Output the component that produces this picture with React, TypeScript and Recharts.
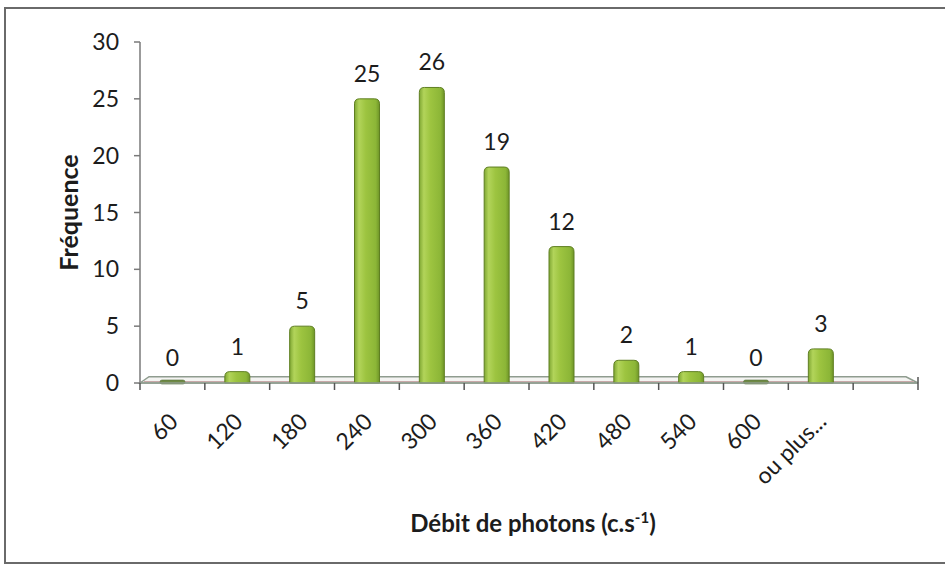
import React from 'react';
import { BarChart, Bar, XAxis, YAxis, LabelList, ReferenceArea } from 'recharts';

const categories = ['60', '120', '180', '240', '300', '360', '420', '480', '540', '600', 'ou plus...', ''];
const frequencies: (number | null)[] = [0, 1, 5, 25, 26, 19, 12, 2, 1, 0, 3, null];
const yTicks = [0, 5, 10, 15, 20, 25, 30];

const data = categories.map((c, i) => ({ cat: c, freq: frequencies[i] }));

const FONT = 'Lato, "Open Sans", sans-serif';
const AXIS_GRAY = '#7a7a7a';
const TEXT = '#1c1c1c';

const CylBar = (props: any) => {
  const { x, y, width, height, index } = props;
  if (x == null || y == null) return null;
  const id = `cyl-${index}`;
  if (!height || height < 2) {
    return (
      <rect x={x} y={y - 3} width={width} height={4} rx={2} fill="#6f8a45" stroke="#55703a" strokeWidth={0.6} />
    );
  }
  const r = Math.min(5, height / 2);
  const d = `M${x},${y + height} L${x},${y + r} Q${x},${y} ${x + r},${y} L${x + width - r},${y} Q${x + width},${y} ${x + width},${y + r} L${x + width},${y + height} Z`;
  return (
    <g>
      <defs>
        <linearGradient id={id} x1="0" y1="0" x2="1" y2="0">
          <stop offset="0%" stopColor="#7fa733" />
          <stop offset="18%" stopColor="#b2d45a" />
          <stop offset="45%" stopColor="#9dc440" />
          <stop offset="85%" stopColor="#8cb637" />
          <stop offset="100%" stopColor="#6f9528" />
        </linearGradient>
      </defs>
      <path d={d} fill={`url(#${id})`} stroke="#5f7f22" strokeWidth={1} />
    </g>
  );
};

const Floor = (props: any) => {
  const { x, y, width, height } = props;
  if (x == null) return null;
  const pts = `${x},${y + height} ${x + 9},${y} ${x + width - 12},${y} ${x + width},${y + height}`;
  return (
    <g>
      <polygon points={pts} fill="#f4f4f2" stroke="#8f9c8f" strokeWidth={1.5} />
      <line x1={x + 4} y1={y + height - 1.5} x2={x + width - 4} y2={y + height - 1.5} stroke="#c9a9a9" strokeWidth={1} />
    </g>
  );
};

const XTick = (props: any) => {
  const { x, y, payload, index } = props;
  const off = payload && payload.offset ? payload.offset : 32;
  const isLast = index === categories.length - 1;
  const ax = x + 7;
  const ay = y + 40;
  return (
    <g>
      <line x1={x - off} y1={y} x2={x - off} y2={y + 7} stroke="#555" strokeWidth={1.5} />
      {isLast && <line x1={x + off} y1={y - 6} x2={x + off} y2={y + 7} stroke="#555" strokeWidth={1.5} />}
      {payload.value !== '' && (
        <text
          x={ax}
          y={ay}
          textAnchor="end"
          transform={`rotate(-45, ${ax}, ${ay})`}
          fontFamily={FONT}
          fontSize={23}
          fill={TEXT}
        >
          {payload.value}
        </text>
      )}
    </g>
  );
};

const YLabel = (props: any) => {
  const vb = props.viewBox || {};
  const cx = 68;
  const cy = vb.y + vb.height / 2;
  return (
    <text x={cx} y={cy} transform={`rotate(-90, ${cx}, ${cy})`} textAnchor="middle" dominantBaseline="central"
      fontFamily={FONT} fontSize={25} fontWeight={700} fill={TEXT}>
      Fréquence
    </text>
  );
};

const XLabel = (props: any) => {
  const vb = props.viewBox || {};
  const cx = vb.x + vb.width / 2 + 4;
  const cy = 532;
  return (
    <text x={cx} y={cy} textAnchor="middle" fontFamily={FONT} fontSize={24} fontWeight={700} fill={TEXT}>
      Débit de photons (c.s<tspan dy={-9} fontSize={15}>-1</tspan><tspan dy={9}>)</tspan>
    </text>
  );
};

const ValueLabel = (props: any) => {
  const { x, y, width, value } = props;
  if (value == null) return null;
  return (
    <text x={x + width / 2} y={y - 17} textAnchor="middle" fontFamily={FONT} fontSize={23} fill={TEXT}>
      {value}
    </text>
  );
};

export default function App() {
  return (
    <div style={{ position: 'absolute', left: 0, top: 0, width: 945, height: 566, background: '#fff', overflow: 'hidden' }}>
      <div
        style={{
          position: 'absolute',
          left: 4,
          top: 7,
          width: 970,
          height: 557,
          boxSizing: 'border-box',
          border: '2px solid #6a6a6a',
        }}
      />
      <div style={{ position: 'absolute', left: 0, top: 0 }}>
        <BarChart
          width={945}
          height={566}
          data={data}
          margin={{ top: 42, right: 27, bottom: 0, left: 0 }}
          barSize={25}
        >
          <YAxis
            domain={[0, 30]}
            ticks={yTicks}
            width={140}
            tickSize={6}
            tickMargin={15}
            axisLine={{ stroke: AXIS_GRAY, strokeWidth: 1.5 }}
            tickLine={{ stroke: AXIS_GRAY, strokeWidth: 1.5 }}
            tick={{ fontFamily: FONT, fontSize: 23, fill: TEXT }}
            label={<YLabel />}
            interval={0}
          />
          <XAxis
            dataKey="cat"
            height={183}
            interval={0}
            tickSize={0}
            tickMargin={0}
            tickLine={false}
            axisLine={{ stroke: '#8f9c8f', strokeWidth: 1.5 }}
            tick={<XTick />}
            label={<XLabel />}
          />
          <ReferenceArea y1={0} y2={0.55} shape={<Floor />} ifOverflow="visible" />
          <Bar dataKey="freq" shape={<CylBar />} isAnimationActive={false}>
            <LabelList dataKey="freq" content={<ValueLabel />} />
          </Bar>
        </BarChart>
      </div>
    </div>
  );
}
